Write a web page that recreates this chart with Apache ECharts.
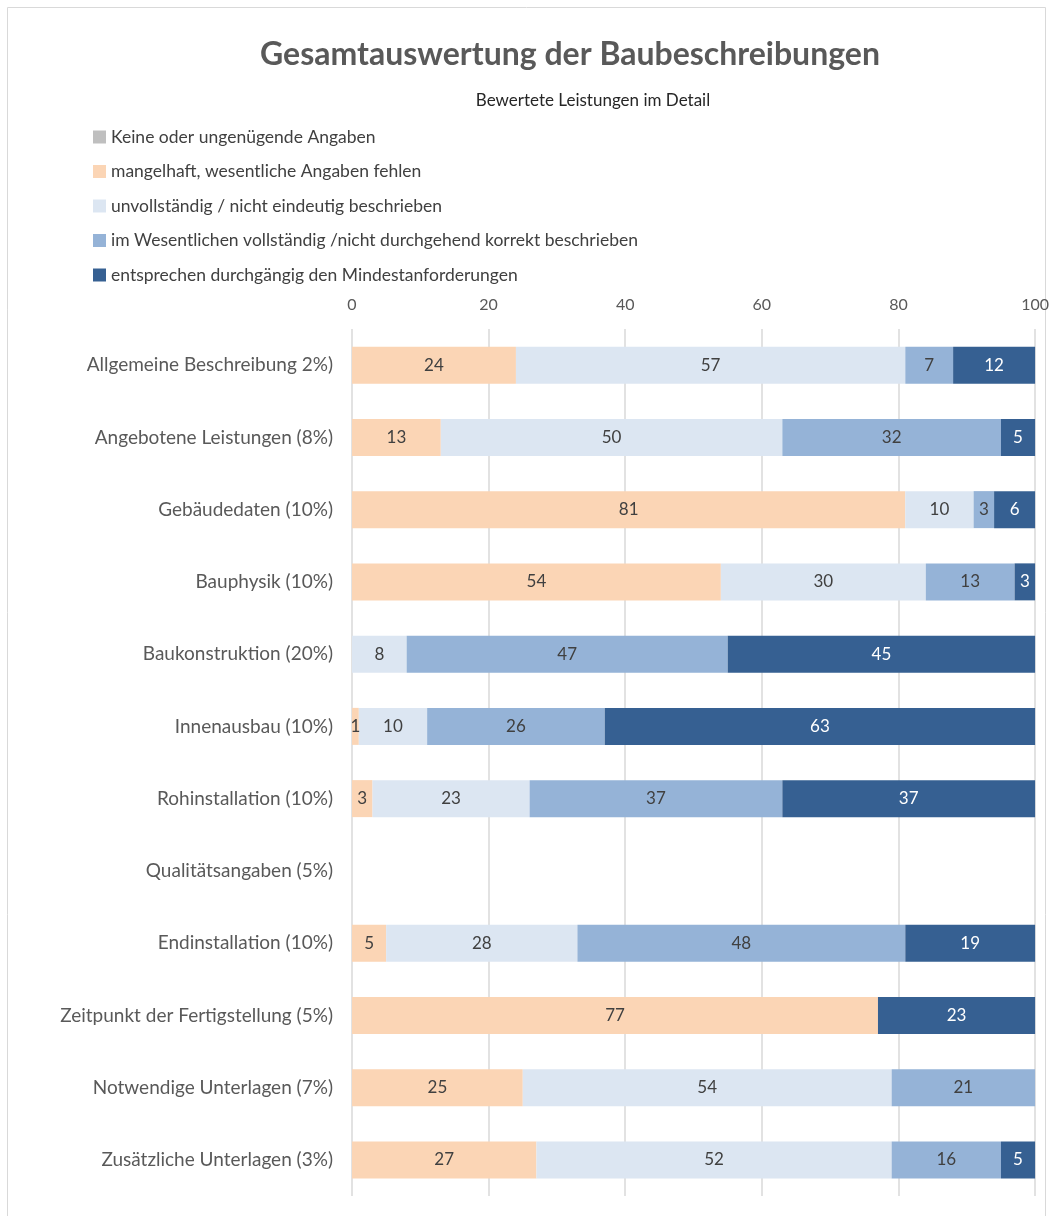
<!doctype html>
<html>
<head>
    <meta charset="utf-8">
    <title>Gesamtauswertung der Baubeschreibungen</title>
    <script src="https://cdn.jsdelivr.net/npm/echarts@6/dist/echarts.min.js"></script>
</head>
<style>
    html, body { margin: 0; padding: 0; background: #fff; }
    #chart { width: 1052px; height: 1216px; }
</style>
<body>
<div id="chart"></div>
<script>
  // categories, top to bottom
  var categories = [
    'Allgemeine Beschreibung 2%)',
    'Angebotene Leistungen (8%)',
    'Gebäudedaten (10%)',
    'Bauphysik (10%)',
    'Baukonstruktion (20%)',
    'Innenausbau (10%)',
    'Rohinstallation (10%)',
    'Qualitätsangaben (5%)',
    'Endinstallation (10%)',
    'Zeitpunkt der Fertigstellung (5%)',
    'Notwendige Unterlagen (7%)',
    'Zusätzliche Unterlagen (3%)'
  ];
  var keineAngaben   = [0, 0, 0, 0, 0, 0, 0, 0, 0, 0, 0, 0];
  var mangelhaft     = [24, 13, 81, 54, 0, 1, 3, 0, 5, 77, 25, 27];
  var unvollstaendig = [57, 50, 10, 30, 8, 10, 23, 0, 28, 0, 54, 52];
  var imWesentlichen = [7, 32, 3, 13, 47, 26, 37, 0, 48, 0, 21, 16];
  var entsprechen    = [12, 5, 6, 3, 45, 63, 37, 0, 19, 23, 0, 5];
  var xTicks = [0, 20, 40, 60, 80, 100];

  var font = 'Lato, "Open Sans", sans-serif';

  function mkSeries(name, data, color, labelColor) {
    return {
      name: name,
      type: 'bar',
      stack: 'total',
      data: data,
      barWidth: 37,
      itemStyle: { color: color },
      label: {
        show: true,
        position: 'inside',
        color: labelColor,
        fontFamily: font,
        fontSize: 17,
        formatter: function (p) { return p.value ? String(p.value) : ''; }
      }
    };
  }

  var myChart = echarts.init(document.getElementById('chart'));
  var option = {
    animation: false,
    textStyle: { fontFamily: font },
    title: [
      {
        text: 'Gesamtauswertung der Baubeschreibungen',
        left: 565, top: 34, textAlign: 'center',
        textStyle: { fontSize: 32, fontWeight: 'bold', color: '#595959', fontFamily: font }
      },
      {
        text: 'Bewertete Leistungen im Detail',
        left: 588, top: 87, textAlign: 'center',
        textStyle: { fontSize: 17, fontWeight: 'normal', color: '#262626', fontFamily: font }
      }
    ],
    graphic: [
      {
        type: 'rect',
        shape: { x: 7.5, y: 7.5, width: 1038, height: 1230 },
        style: { fill: 'none', stroke: '#d9d9d9', lineWidth: 1 },
        silent: true
      }
    ],
    legend: {
      orient: 'vertical',
      left: 88, top: 123,
      itemWidth: 13, itemHeight: 13,
      itemGap: 16.5,
      icon: 'rect',
      textStyle: { fontSize: 17.5, lineHeight: 17.5, color: '#404040', fontFamily: font },
      data: [
        'Keine oder ungenügende Angaben',
        'mangelhaft, wesentliche Angaben fehlen',
        'unvollständig / nicht eindeutig beschrieben',
        'im Wesentlichen vollständig /nicht durchgehend korrekt beschrieben',
        'entsprechen durchgängig den Mindestanforderungen'
      ]
    },
    grid: { left: 352, right: 11, top: 329, bottom: 20, containLabel: false },
    xAxis: {
      type: 'value',
      position: 'top',
      min: xTicks[0], max: xTicks[xTicks.length - 1], interval: 20,
      axisLine: { show: false },
      axisTick: { show: false },
      axisLabel: { color: '#595959', fontSize: 16, margin: 16, fontFamily: font },
      splitLine: { lineStyle: { color: '#d9d9d9', width: 1.5 } }
    },
    yAxis: {
      type: 'category',
      inverse: true,
      data: categories,
      axisLine: { show: false },
      axisTick: { show: false },
      axisLabel: { color: '#595959', fontSize: 19, margin: 19, fontFamily: font }
    },
    series: [
      mkSeries('Keine oder ungenügende Angaben', keineAngaben, '#bfbfbf', '#404040'),
      mkSeries('mangelhaft, wesentliche Angaben fehlen', mangelhaft, '#fbd5b5', '#404040'),
      mkSeries('unvollständig / nicht eindeutig beschrieben', unvollstaendig, '#dce6f2', '#404040'),
      mkSeries('im Wesentlichen vollständig /nicht durchgehend korrekt beschrieben', imWesentlichen, '#95b3d7', '#404040'),
      mkSeries('entsprechen durchgängig den Mindestanforderungen', entsprechen, '#366092', '#ffffff')
    ]
  };
  myChart.setOption(option);
</script>
</body>
</html>
